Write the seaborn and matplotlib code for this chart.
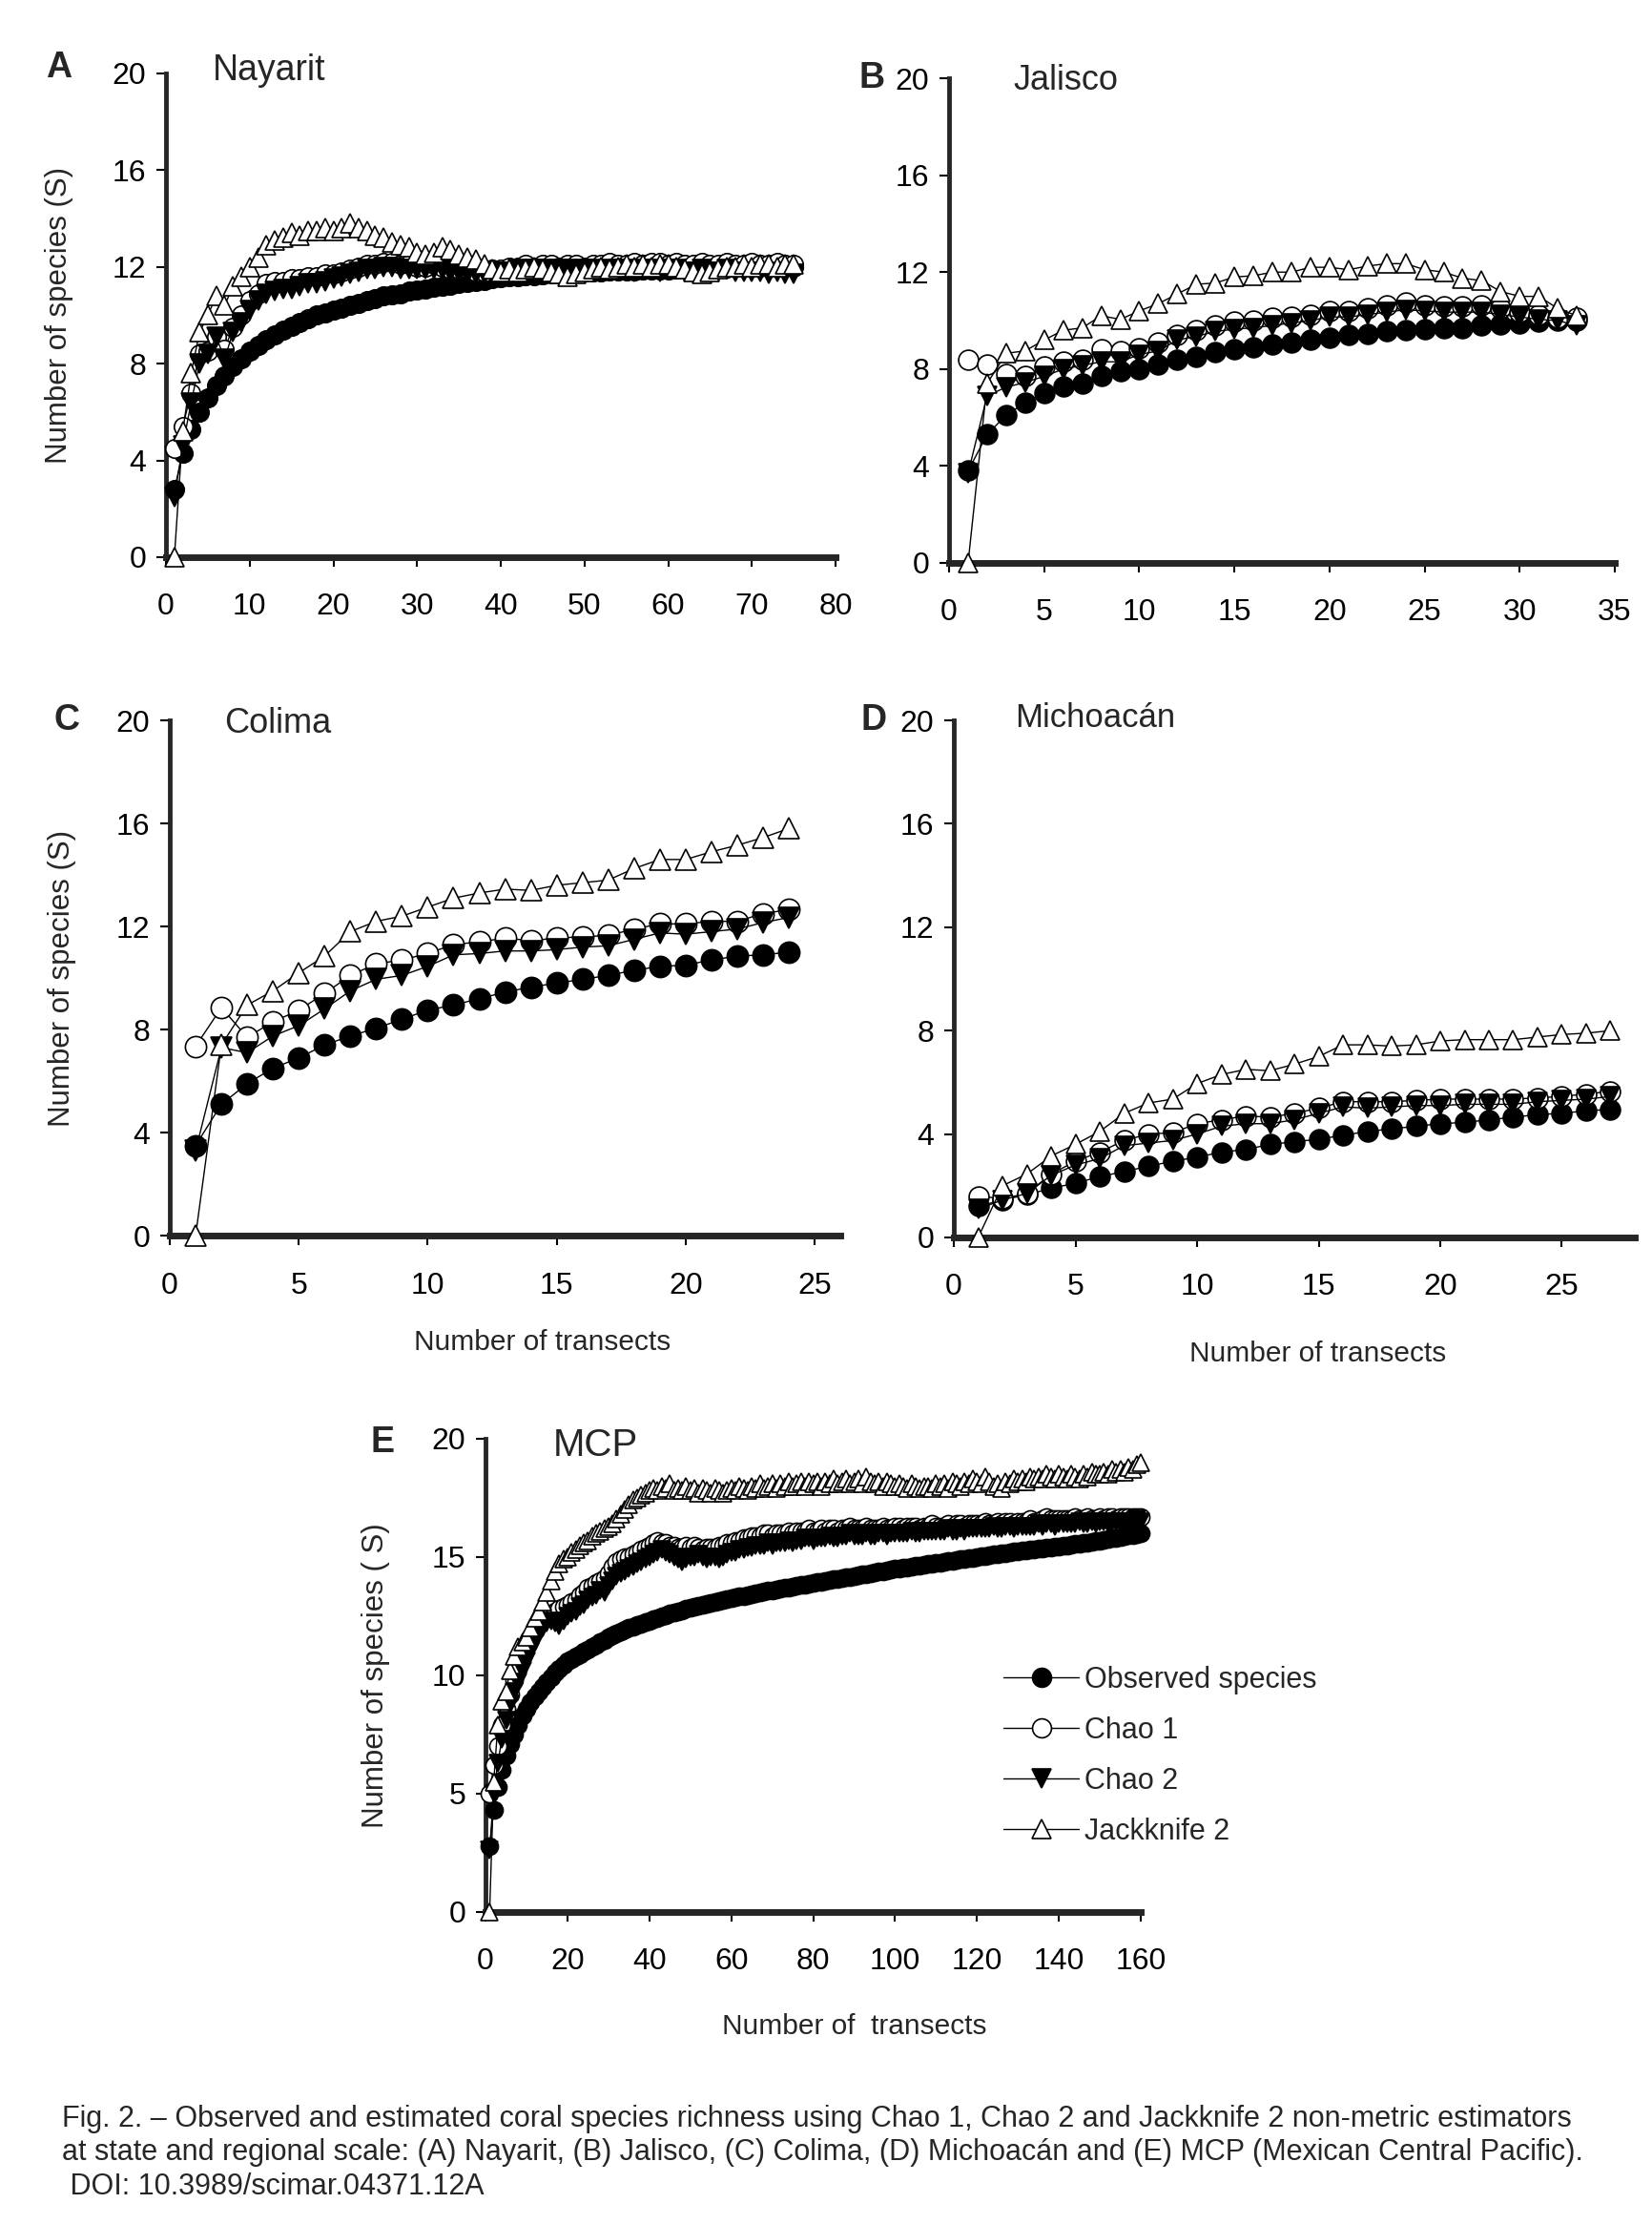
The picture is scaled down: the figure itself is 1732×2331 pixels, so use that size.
import numpy as np
import matplotlib
matplotlib.use("Agg")
import matplotlib.pyplot as plt
import seaborn as sns

# ---- datos (numero de especies por transecto) ----
nay_transects = list(range(1, 76))
nay_obs = [2.8, 4.3, 5.3, 6.0, 6.6, 7.1, 7.5, 7.9, 8.2, 8.5,
           8.75, 9.0, 9.2, 9.4, 9.55, 9.7, 9.85, 10.0, 10.1, 10.2,
           10.3, 10.4, 10.5, 10.6, 10.7, 10.8, 10.85, 10.9, 11.0, 11.05,
           11.1, 11.15, 11.2, 11.25, 11.3, 11.35, 11.4, 11.45, 11.5, 11.55,
           11.58, 11.6, 11.63, 11.65, 11.68, 11.7, 11.72, 11.74, 11.76, 11.78,
           11.8, 11.81, 11.82, 11.83, 11.84, 11.85, 11.86, 11.87, 11.88, 11.89,
           11.9, 11.91, 11.92, 11.93, 11.94, 11.95, 11.96, 11.97, 11.97, 11.98,
           11.98, 11.99, 11.99, 12.0, 12.0]
nay_chao1 = [4.5, 5.4, 6.8, 8.4, 8.5, 9.1, 8.6, 9.5, 10.0, 10.6,
             10.9, 11.3, 11.4, 11.4, 11.5, 11.5, 11.6, 11.6, 11.7, 11.7,
             11.8, 11.9, 12.0, 12.1, 12.1, 12.2, 12.2, 12.1, 12.1, 12.0,
             12.0, 12.1, 12.0, 11.9, 11.9, 11.9, 11.8, 11.8, 11.9, 11.9,
             12.0, 12.0, 12.1, 12.0, 12.1, 12.1, 12.0, 12.1, 12.1, 12.0,
             12.1, 12.1, 12.2, 12.1, 12.1, 12.2, 12.1, 12.2, 12.2, 12.1,
             12.2, 12.1, 12.1, 12.2, 12.1, 12.1, 12.2, 12.1, 12.1, 12.2,
             12.1, 12.1, 12.2, 12.1, 12.1]
nay_chao2 = [2.5, 4.6, 6.4, 8.0, 8.4, 9.1, 8.2, 9.3, 9.7, 10.2,
             10.6, 10.9, 11.0, 11.1, 11.1, 11.2, 11.3, 11.3, 11.4, 11.5,
             11.6, 11.7, 11.8, 11.9, 11.9, 12.0, 12.0, 11.9, 11.9, 11.9,
             11.9, 11.9, 11.9, 11.8, 11.8, 11.7, 11.7, 11.7, 11.8, 11.8,
             11.8, 11.9, 11.8, 11.9, 11.9, 11.8, 11.9, 11.9, 11.8, 11.9,
             11.9, 11.8, 11.9, 11.9, 11.9, 11.8, 11.9, 11.9, 11.8, 11.9,
             11.9, 11.8, 11.8, 11.9, 11.8, 11.8, 11.9, 11.8, 11.8, 11.8,
             11.8, 11.7, 11.8, 11.7, 11.7]
nay_jack2 = [0.0, 5.2, 7.6, 9.3, 10.0, 10.8, 10.4, 11.2, 11.6, 12.0,
             12.4, 12.9, 13.1, 13.2, 13.4, 13.3, 13.5, 13.5, 13.6, 13.5,
             13.6, 13.8, 13.6, 13.5, 13.3, 13.2, 13.0, 12.9, 12.8, 12.6,
             12.5, 12.6, 12.8, 12.7, 12.5, 12.4, 12.3, 12.1, 11.9, 11.8,
             11.9, 11.8, 11.9, 12.0, 11.9, 11.8, 11.7, 11.6, 11.7, 11.8,
             11.9, 12.0, 11.9, 12.0, 12.1, 12.0, 12.1, 12.0, 12.1, 12.1,
             12.0, 11.9, 11.8, 11.7, 11.8, 11.9, 12.0, 12.0, 12.1, 12.0,
             12.1, 12.1, 12.0, 12.1, 12.1]

jal_transects = list(range(1, 34))
jal_obs = [3.8, 5.3, 6.1, 6.6, 7.0, 7.3, 7.4, 7.7, 7.9, 8.0,
           8.2, 8.4, 8.5, 8.7, 8.8, 8.9, 9.0, 9.1, 9.2, 9.3,
           9.4, 9.45, 9.55, 9.6, 9.65, 9.7, 9.7, 9.8, 9.85, 9.9,
           9.95, 10.0, 10.0]
jal_chao1 = [8.4, 8.2, 7.8, 7.7, 8.1, 8.3, 8.4, 8.8, 8.75, 8.85,
             9.1, 9.4, 9.6, 9.8, 9.95, 10.0, 10.1, 10.15, 10.25, 10.4,
             10.4, 10.5, 10.65, 10.75, 10.65, 10.6, 10.6, 10.65, 10.5, 10.35,
             10.25, 10.1, 10.1]
jal_chao2 = [3.7, 6.9, 7.25, 7.45, 7.7, 8.0, 8.15, 8.3, 8.3, 8.6,
             8.75, 9.2, 9.35, 9.55, 9.65, 9.7, 9.8, 9.9, 10.0, 10.15,
             10.15, 10.25, 10.35, 10.45, 10.4, 10.35, 10.35, 10.35, 10.25, 10.15,
             10.05, 10.0, 9.8]
jal_jack2 = [0.0, 7.4, 8.65, 8.75, 9.2, 9.6, 9.7, 10.2, 10.05, 10.4,
             10.7, 11.1, 11.5, 11.55, 11.8, 11.85, 12.0, 12.0, 12.2, 12.2,
             12.1, 12.25, 12.35, 12.35, 12.1, 12.0, 11.75, 11.65, 11.2, 11.0,
             11.0, 10.5, 10.2]

col_transects = list(range(1, 25))
col_obs = [3.5, 5.1, 5.9, 6.5, 6.9, 7.4, 7.75, 8.05, 8.4, 8.75,
           8.95, 9.2, 9.45, 9.65, 9.8, 9.95, 10.1, 10.3, 10.45, 10.5,
           10.7, 10.85, 10.9, 11.0]
col_chao1 = [7.35, 8.85, 7.7, 8.3, 8.75, 9.4, 10.1, 10.55, 10.7, 10.95,
             11.3, 11.4, 11.55, 11.45, 11.55, 11.6, 11.65, 11.9, 12.1, 12.1,
             12.2, 12.2, 12.5, 12.65]
col_chao2 = [3.3, 7.3, 7.1, 7.75, 8.15, 8.8, 9.5, 9.95, 10.1, 10.45,
             10.9, 10.95, 11.05, 11.05, 11.1, 11.2, 11.25, 11.5, 11.75, 11.7,
             11.8, 11.9, 12.15, 12.35]
col_jack2 = [0.0, 7.4, 8.95, 9.5, 10.2, 10.85, 11.8, 12.2, 12.4, 12.75,
             13.1, 13.3, 13.45, 13.4, 13.6, 13.7, 13.8, 14.25, 14.6, 14.6,
             14.9, 15.15, 15.45, 15.8]

mic_transects = list(range(1, 28))
mic_obs = [1.2, 1.45, 1.65, 1.9, 2.1, 2.35, 2.55, 2.75, 2.95, 3.1,
           3.3, 3.4, 3.6, 3.7, 3.8, 3.95, 4.1, 4.2, 4.3, 4.4,
           4.45, 4.55, 4.65, 4.75, 4.8, 4.9, 4.95]
mic_chao1 = [1.6, 1.5, 1.7, 2.45, 2.95, 3.3, 3.75, 4.0, 4.05, 4.4,
             4.55, 4.7, 4.65, 4.8, 5.0, 5.25, 5.25, 5.25, 5.3, 5.35,
             5.35, 5.35, 5.35, 5.4, 5.45, 5.55, 5.65]
mic_chao2 = [1.1, 1.45, 1.7, 2.4, 2.8, 3.05, 3.55, 3.65, 3.75, 4.0,
             4.3, 4.4, 4.4, 4.55, 4.8, 5.05, 5.0, 5.05, 5.1, 5.1,
             5.15, 5.15, 5.15, 5.25, 5.3, 5.35, 5.45]
mic_jack2 = [0.0, 2.0, 2.45, 3.15, 3.6, 4.1, 4.8, 5.2, 5.35, 5.95,
             6.3, 6.5, 6.45, 6.7, 7.0, 7.45, 7.45, 7.4, 7.45, 7.6,
             7.65, 7.65, 7.65, 7.75, 7.85, 7.9, 8.0]

mcp_transects = list(range(1, 161))
mcp_obs = [2.8, 4.3, 5.3, 6.0, 6.6, 7.1, 7.5, 7.9, 8.3, 8.6,
           8.85, 9.1, 9.3, 9.5, 9.7, 9.9, 10.1, 10.3, 10.45, 10.6,
           10.7, 10.8, 10.9, 11.0, 11.1, 11.2, 11.3, 11.4, 11.5, 11.6,
           11.68, 11.76, 11.84, 11.92, 12.0, 12.06, 12.12, 12.18, 12.24, 12.3,
           12.36, 12.42, 12.48, 12.54, 12.6, 12.65, 12.7, 12.75, 12.8, 12.85,
           12.89, 12.93, 12.97, 13.01, 13.05, 13.09, 13.13, 13.17, 13.21, 13.25,
           13.29, 13.33, 13.36, 13.4, 13.43, 13.47, 13.5, 13.54, 13.57, 13.6,
           13.63, 13.66, 13.69, 13.72, 13.75, 13.78, 13.81, 13.84, 13.87, 13.9,
           13.93, 13.96, 13.99, 14.02, 14.05, 14.08, 14.11, 14.14, 14.17, 14.2,
           14.23, 14.26, 14.29, 14.32, 14.35, 14.38, 14.41, 14.44, 14.47, 14.5,
           14.52, 14.55, 14.57, 14.6, 14.62, 14.65, 14.67, 14.7, 14.72, 14.75,
           14.77, 14.8, 14.82, 14.85, 14.87, 14.9, 14.92, 14.95, 14.97, 15.0,
           15.02, 15.05, 15.07, 15.1, 15.12, 15.15, 15.17, 15.2, 15.22, 15.25,
           15.27, 15.29, 15.31, 15.33, 15.35, 15.37, 15.39, 15.41, 15.43, 15.45,
           15.47, 15.5, 15.52, 15.55, 15.57, 15.6, 15.62, 15.65, 15.67, 15.7,
           15.73, 15.76, 15.79, 15.82, 15.85, 15.88, 15.91, 15.94, 15.97, 16.0]
mcp_chao1 = [5.0, 6.2, 7.0, 7.9, 8.6, 9.2, 9.8, 10.3, 10.8, 11.2,
             11.6, 11.9, 12.2, 12.5, 12.6, 12.8, 12.7, 12.8, 12.9, 13.0,
             13.1, 13.2, 13.4, 13.5, 13.7, 13.8, 13.9, 14.0, 14.1, 14.3,
             14.6, 14.8, 14.9, 15.0, 15.0, 15.1, 15.2, 15.3, 15.4, 15.5,
             15.6, 15.7, 15.6, 15.6, 15.5, 15.5, 15.4, 15.4, 15.5, 15.4,
             15.5, 15.4, 15.3, 15.4, 15.4, 15.4, 15.5, 15.5, 15.6, 15.6,
             15.7, 15.7, 15.8, 15.8, 15.9, 15.9, 15.9, 16.0, 16.0, 15.9,
             16.0, 16.0, 16.0, 16.1, 16.0, 16.1, 16.1, 16.1, 16.2, 16.1,
             16.1, 16.2, 16.1, 16.2, 16.2, 16.1, 16.2, 16.2, 16.3, 16.2,
             16.2, 16.2, 16.3, 16.2, 16.2, 16.2, 16.3, 16.2, 16.2, 16.3,
             16.3, 16.2, 16.3, 16.3, 16.3, 16.2, 16.3, 16.3, 16.4, 16.3,
             16.3, 16.3, 16.4, 16.3, 16.4, 16.4, 16.3, 16.4, 16.4, 16.4,
             16.4, 16.5, 16.4, 16.4, 16.5, 16.4, 16.5, 16.5, 16.4, 16.5,
             16.5, 16.5, 16.6, 16.5, 16.5, 16.6, 16.7, 16.6, 16.6, 16.6,
             16.6, 16.6, 16.6, 16.7, 16.6, 16.6, 16.7, 16.6, 16.6, 16.7,
             16.6, 16.7, 16.7, 16.6, 16.7, 16.7, 16.7, 16.7, 16.7, 16.7]
mcp_chao2 = [2.6, 5.0, 6.3, 7.3, 8.1, 8.8, 9.3, 9.7, 10.2, 10.6,
             11.0, 11.4, 11.8, 12.0, 12.2, 12.3, 12.2, 12.1, 12.3, 12.5,
             12.6, 12.7, 12.9, 13.0, 13.2, 13.3, 13.4, 13.6, 13.5, 13.8,
             14.0, 14.2, 14.3, 14.4, 14.5, 14.6, 14.7, 14.8, 14.9, 15.0,
             15.1, 15.2, 15.3, 15.2, 15.1, 15.0, 14.9, 14.8, 14.9, 15.0,
             15.0, 15.1, 15.0, 14.9, 15.0, 15.0, 14.9, 15.0, 15.1, 15.2,
             15.2, 15.3, 15.3, 15.4, 15.4, 15.5, 15.5, 15.5, 15.6, 15.5,
             15.6, 15.6, 15.6, 15.7, 15.6, 15.7, 15.7, 15.8, 15.8, 15.7,
             15.8, 15.8, 15.8, 15.9, 15.8, 15.8, 15.9, 15.9, 16.0, 15.9,
             15.9, 15.9, 16.0, 15.9, 15.9, 16.0, 16.0, 15.9, 16.0, 16.0,
             16.0, 16.0, 16.0, 16.1, 16.0, 16.0, 16.1, 16.1, 16.1, 16.1,
             16.1, 16.1, 16.2, 16.1, 16.1, 16.2, 16.1, 16.2, 16.2, 16.2,
             16.2, 16.2, 16.2, 16.3, 16.2, 16.2, 16.3, 16.3, 16.2, 16.3,
             16.3, 16.3, 16.3, 16.3, 16.4, 16.3, 16.4, 16.4, 16.3, 16.4,
             16.4, 16.4, 16.4, 16.4, 16.5, 16.4, 16.4, 16.5, 16.4, 16.5,
             16.5, 16.4, 16.5, 16.5, 16.5, 16.5, 16.5, 16.5, 16.6, 16.5]
mcp_jack2 = [0.0, 5.5, 7.9, 8.9, 9.3, 10.2, 10.8, 11.2, 11.4, 11.6,
             12.0, 12.4, 12.7, 13.1, 13.5, 14.0, 14.4, 14.7, 14.9, 15.0,
             15.2, 15.3, 15.5, 15.6, 15.7, 15.9, 16.0, 16.1, 16.2, 16.3,
             16.4, 16.6, 16.8, 17.0, 17.2, 17.4, 17.5, 17.6, 17.7, 17.8,
             17.9, 17.8, 18.0, 17.9, 18.1, 17.8, 17.9, 17.8, 18.0, 17.8,
             17.9, 17.7, 17.9, 17.8, 17.7, 17.9, 17.8, 17.7, 17.8, 17.9,
             17.8, 18.0, 17.9, 17.8, 18.0, 17.9, 18.1, 17.9, 18.0, 18.1,
             17.9, 18.1, 18.0, 18.2, 18.0, 18.1, 18.2, 18.0, 18.2, 18.1,
             18.2, 18.0, 18.2, 18.1, 18.3, 18.1, 18.2, 18.3, 18.1, 18.2,
             18.3, 18.1, 18.4, 18.2, 18.1, 18.2, 18.0, 18.2, 18.1, 18.0,
             18.1, 18.0, 17.9, 18.1, 18.0, 17.9, 18.0, 18.0, 17.9, 18.1,
             18.0, 18.1, 17.9, 18.2, 18.1, 18.0, 18.2, 18.1, 18.3, 18.2,
             18.1, 18.4, 18.2, 18.0, 18.1, 17.9, 18.2, 18.1, 18.3, 18.2,
             18.3, 18.2, 18.4, 18.3, 18.4, 18.3, 18.5, 18.4, 18.3, 18.5,
             18.4, 18.3, 18.5, 18.4, 18.3, 18.5, 18.4, 18.6, 18.5, 18.5,
             18.6, 18.5, 18.7, 18.6, 18.7, 18.6, 18.8, 18.7, 18.9, 19.0]

series_names = ["Observed species", "Chao 1", "Chao 2", "Jackknife 2"]

NARROW = ["Liberation Sans Narrow", "Liberation Sans", "DejaVu Sans"]
REGULAR = ["Liberation Sans", "DejaVu Sans"]

sns.set_style("ticks")
plt.rcParams["font.family"] = NARROW
plt.rcParams["font.size"] = 23


def dibujar_panel(ax, x, valores, xmax, xticks, yticks, ms, etiquetas=False):
    """Dibuja las cuatro curvas de acumulacion de especies en un eje."""
    estilos = [("o", "black"), ("o", "white"), ("v", "black"), ("^", "white")]
    for vals, (mk, fc), nombre in zip(valores, estilos, series_names):
        sns.lineplot(x=x, y=vals, ax=ax, color="black", linewidth=1.0,
                     marker=mk, markersize=ms, markerfacecolor=fc,
                     markeredgecolor="black", markeredgewidth=1.2,
                     errorbar=None, clip_on=False, zorder=3,
                     label=nombre if etiquetas else None, legend=False)
    ax.set_xlim(0, xmax)
    ax.set_ylim(0, 20)
    ax.set_xticks(xticks)
    ax.set_yticks(yticks)
    sns.despine(ax=ax)
    ax.spines["left"].set_linewidth(3.5)
    ax.spines["bottom"].set_linewidth(5)
    ax.tick_params(axis="both", direction="out", length=7, width=1.5,
                   colors="black", labelsize=23)
    ax.tick_params(axis="x", pad=20)
    ax.tick_params(axis="y", pad=8)
    ax.set_xlabel("")
    ax.set_ylabel("")


fig = plt.figure(figsize=(17.32, 23.31), dpi=100)

ax_a = fig.add_axes([0.1005, 0.7495, 0.4053, 0.2175])
ax_b = fig.add_axes([0.5745, 0.7469, 0.4030, 0.2179])
ax_c = fig.add_axes([0.1028, 0.4444, 0.4059, 0.2317])
ax_d = fig.add_axes([0.5774, 0.4436, 0.4122, 0.2325])
ax_e = fig.add_axes([0.2939, 0.1403, 0.3967, 0.2128])

ticks4 = [0, 4, 8, 12, 16, 20]
dibujar_panel(ax_a, nay_transects, [nay_obs, nay_chao1, nay_chao2, nay_jack2],
              80, range(0, 81, 10), ticks4, 14)
dibujar_panel(ax_b, jal_transects, [jal_obs, jal_chao1, jal_chao2, jal_jack2],
              35, range(0, 36, 5), ticks4, 15)
dibujar_panel(ax_c, col_transects, [col_obs, col_chao1, col_chao2, col_jack2],
              26, range(0, 26, 5), ticks4, 16)
dibujar_panel(ax_d, mic_transects, [mic_obs, mic_chao1, mic_chao2, mic_jack2],
              28, range(0, 26, 5), ticks4, 15)
dibujar_panel(ax_e, mcp_transects, [mcp_obs, mcp_chao1, mcp_chao2, mcp_jack2],
              160, range(0, 161, 20), [0, 5, 10, 15, 20], 13, etiquetas=True)

# etiquetas de ejes
for ax, txt, xc in [(ax_a, "Number of species (S)", -0.16),
                    (ax_c, "Number of species (S)", -0.161),
                    (ax_e, "Number of species ( S)", -0.167)]:
    ax.set_ylabel(txt, family=REGULAR, fontsize=22.5)
    ax.yaxis.set_label_coords(xc, 0.5)
    ax.yaxis.label.set_va("center")

for ax, txt, xc, yc in [(ax_c, "Number of transects", 0.556, -0.207),
                        (ax_d, "Number of transects", 0.534, -0.225),
                        (ax_e, "Number of  transects", 0.563, -0.242)]:
    ax.set_xlabel(txt, fontsize=21.5)
    ax.xaxis.set_label_coords(xc, yc)
    ax.xaxis.label.set_va("center")

# leyenda
handles, labels = ax_e.get_legend_handles_labels()
ax_e.legend(handles, labels, loc="upper left", bbox_to_anchor=(0.79, 0.52),
            frameon=False, borderpad=0, borderaxespad=0, handlelength=2.6,
            handletextpad=0.2, labelspacing=0.75, fontsize=22, markerscale=1.1)

W, H = 1732.0, 2331.0


def ftext(px, py, s, **kw):
    fig.text(px / W, 1 - py / H, s, **kw)


# letras de panel
for letra, px, py in [("A", 62, 71), ("B", 914, 82), ("C", 70, 755),
                      ("D", 916, 755), ("E", 401, 1512)]:
    ftext(px, py, letra, family=REGULAR, fontsize=27, fontweight="bold",
          ha="center", va="center")

# nombres de region
for nombre, px, py, fs in [("Nayarit", 282, 74, 27), ("Jalisco", 1117, 85, 26),
                           ("Colima", 291, 758, 26), ("Michoacán", 1148, 752, 25)]:
    ftext(px, py, nombre, fontsize=fs, ha="center", va="center")
ftext(624, 1515, "MCP", family=REGULAR, fontsize=29, ha="center", va="center")

# pie de figura
caption = [
    "Fig. 2. – Observed and estimated coral species richness using Chao 1, "
    "Chao 2 and Jackknife 2 non-metric estimators",
    "at state and regional scale: (A) Nayarit, (B) Jalisco, (C) Colima, "
    "(D) Michoacán and (E) MCP (Mexican Central Pacific).",
    " DOI: 10.3989/scimar.04371.12A",
]
for linea, py in zip(caption, [2221, 2256, 2292]):
    ftext(65, py, linea, family=REGULAR, fontsize=22, ha="left", va="center")

fig.savefig("out.png", dpi=100, facecolor="white")
